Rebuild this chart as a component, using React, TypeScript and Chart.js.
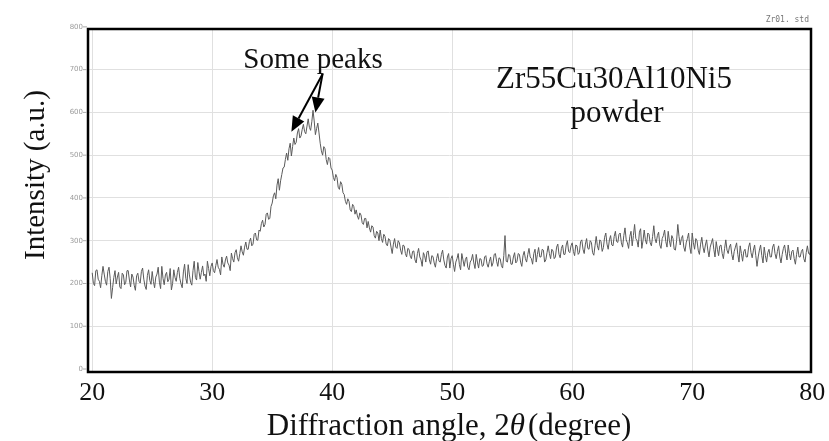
import React, { useEffect, useRef } from "react";
import { Chart, registerables } from "chart.js";

Chart.register(...registerables);

// Sampling grid of the scan (degrees 2θ)
const angleStart = 20;
const angleStep = 0.1;

// Intensity (a.u.), 0.1° apart (one row per degree)
const intensity20s = [
  225, 200, 195, 230, 232, 210, 205, 190, 218, 240,
  222, 205, 196, 228, 238, 212, 165, 190, 214, 230,
  199, 215, 226, 192, 188, 224, 220, 197, 203, 230,
  230, 208, 192, 222, 215, 196, 184, 218, 224, 205,
  201, 228, 236, 210, 194, 186, 219, 232, 207, 198,
  228, 205, 190, 215, 222, 238, 203, 188, 240, 212,
  197, 220, 226, 204, 210, 235, 185, 200, 232, 214,
  205, 226, 238, 212, 199, 190, 227, 245, 212, 200,
  244, 220, 203, 196, 230, 252, 214, 208, 249, 228,
  210, 226, 241, 218, 222, 205, 252, 235, 218, 240,
];
const intensity30s = [
  248, 230, 225, 242, 256, 238, 233, 220, 262, 245,
  238, 255, 264, 248, 243, 230, 271, 258, 250, 272,
  279, 260, 252, 270, 288, 274, 266, 285, 297, 280,
  280, 298, 306, 288, 292, 315, 318, 302, 301, 325,
  322, 340, 348, 332, 338, 362, 365, 350, 352, 380,
  388, 405, 412, 398, 430, 445, 418, 440, 455, 470,
  472, 490, 505, 488, 515, 528, 498, 520, 540, 525,
  530, 552, 562, 540, 545, 560, 572, 555, 550, 568,
  585, 565, 558, 578, 605, 580, 548, 562, 575, 552,
  528, 510, 500, 520, 515, 490, 478, 495, 492, 470,
];
const intensity40s = [
  465, 448, 440, 455, 448, 425, 420, 438, 432, 412,
  408, 392, 385, 398, 392, 372, 368, 385, 380, 362,
  372, 358, 350, 365, 360, 342, 338, 352, 352, 330,
  345, 330, 320, 335, 332, 312, 306, 322, 318, 300,
  325, 305, 296, 315, 310, 292, 288, 305, 302, 285,
  270, 292, 305, 285, 282, 300, 295, 278, 268, 290,
  288, 270, 262, 282, 280, 264, 258, 275, 276, 255,
  248, 270, 282, 262, 255, 240, 272, 265, 250, 274,
  276, 255, 245, 265, 263, 248, 238, 258, 270, 252,
  250, 268, 278, 255, 242, 236, 262, 270, 236, 258,
];
const intensity50s = [
  265, 245, 228, 250, 258, 270, 244, 232, 270, 255,
  240, 256, 262, 238, 232, 250, 255, 268, 248, 235,
  268, 250, 236, 258, 257, 240, 242, 262, 265, 246,
  238, 252, 262, 240, 248, 268, 270, 252, 240, 260,
  258, 242, 236, 265, 312, 252, 250, 268, 266, 245,
  245, 262, 272, 248, 252, 270, 268, 250, 240, 265,
  275, 258, 250, 268, 282, 262, 258, 245, 270, 280,
  250, 268, 284, 262, 262, 280, 278, 250, 255, 272,
  288, 270, 258, 280, 276, 258, 262, 285, 292, 268,
  260, 282, 290, 268, 268, 290, 300, 275, 272, 288,
];
const intensity60s = [
  295, 275, 265, 290, 288, 268, 272, 298, 302, 280,
  270, 292, 305, 282, 280, 300, 296, 272, 266, 288,
  310, 288, 278, 302, 298, 275, 284, 308, 318, 292,
  280, 302, 312, 290, 288, 310, 322, 298, 296, 315,
  318, 295, 285, 312, 330, 302, 295, 282, 310, 322,
  288, 312, 338, 305, 300, 285, 320, 328, 282, 300,
  325, 302, 292, 318, 315, 295, 288, 310, 335, 305,
  295, 312, 320, 290, 282, 305, 312, 325, 298, 285,
  322, 300, 286, 312, 305, 280, 278, 300, 338, 310,
  290, 305, 312, 285, 275, 295, 305, 318, 285, 270,
];
const intensity70s = [
  318, 295, 280, 305, 300, 278, 268, 292, 308, 285,
  272, 290, 302, 278, 262, 285, 295, 305, 280, 262,
  298, 280, 265, 288, 290, 270, 258, 282, 302, 278,
  270, 285, 292, 268, 255, 275, 285, 295, 268, 250,
  288, 270, 252, 275, 280, 262, 262, 285, 295, 272,
  260, 278, 290, 265, 240, 262, 278, 290, 265, 248,
  285, 265, 250, 272, 280, 262, 262, 285, 292, 270,
  258, 275, 288, 262, 248, 268, 282, 290, 270, 255,
  290, 270, 255, 275, 278, 258, 245, 268, 285, 262,
  262, 275, 280, 258, 250, 272, 288, 270, 268, 280,
];
const intensity80 = [275];

const xTickLabels = [20, 30, 40, 50, 60, 70, 80];
const xGridValues = [20, 30, 40, 50, 60, 70];
const yTickLabels = [0, 100, 200, 300, 400, 500, 600, 700, 800];
const yGridValues = [100, 200, 300, 400, 500, 600, 700];

const xTitleParts = ["Diffraction angle, 2", "\u03b8", "(degree)"];
const yTitle = "Intensity (a.u.)";
const sampleName = "Zr55Cu30Al10Ni5";
const sampleForm = "powder";
const peakNote = "Some peaks";
const fileTag = "Zr01. std";
// arrow targets (angle, intensity) of the annotated peaks
const peakArrowTargets = [
  [36.6, 555],
  [38.6, 600],
];
const peakArrowOrigin = [39.2, 690];

const SERIF = '"Liberation Serif", "Times New Roman", serif';

export default function App() {
  const ref = useRef<HTMLCanvasElement | null>(null);

  useEffect(() => {
    const canvas = ref.current;
    if (!canvas) return;
    const all = [
      ...intensity20s,
      ...intensity30s,
      ...intensity40s,
      ...intensity50s,
      ...intensity60s,
      ...intensity70s,
      ...intensity80,
    ];
    const points = all.map((v, i) => ({ x: angleStart + i * angleStep, y: v }));

    const decor = {
      id: "decor",
      afterDraw(chart: any) {
        const { ctx, chartArea: a, scales } = chart;
        const xs = scales.x;
        const ys = scales.y;
        ctx.save();
        // frame
        ctx.strokeStyle = "#000";
        ctx.lineWidth = 2.5;
        ctx.strokeRect(a.left, a.top, a.right - a.left, a.bottom - a.top);

        // x tick labels
        ctx.fillStyle = "#111";
        ctx.font = `26px ${SERIF}`;
        ctx.textAlign = "center";
        ctx.textBaseline = "alphabetic";
        xTickLabels.forEach((t) => {
          ctx.fillText(String(t), xs.getPixelForValue(t), 400);
        });

        // tiny y tick labels
        ctx.fillStyle = "#9a9a9a";
        ctx.font = `7px "DejaVu Sans", sans-serif`;
        ctx.textAlign = "right";
        ctx.textBaseline = "middle";
        ctx.strokeStyle = "#aaa";
        ctx.lineWidth = 1;
        yTickLabels.forEach((t) => {
          const y = ys.getPixelForValue(t);
          ctx.fillText(String(t), a.left - 5, y);
          ctx.beginPath();
          ctx.moveTo(a.left - 5, y);
          ctx.lineTo(a.left - 1, y);
          ctx.stroke();
        });

        // file tag
        ctx.font = `8px "DejaVu Sans Mono", monospace`;
        ctx.textAlign = "right";
        ctx.fillStyle = "#777";
        ctx.fillText(fileTag, a.right - 2, 20);

        // x title with italic theta
        ctx.fillStyle = "#111";
        ctx.textBaseline = "alphabetic";
        ctx.textAlign = "left";
        const fontN = `31px ${SERIF}`;
        const fontI = `italic 31px ${SERIF}`;
        ctx.font = fontN;
        const w0 = ctx.measureText(xTitleParts[0]).width;
        const w2 = ctx.measureText(xTitleParts[2]).width;
        ctx.font = fontI;
        const w1 = ctx.measureText(xTitleParts[1]).width + 3;
        let sx = 449 - (w0 + w1 + w2) / 2;
        ctx.font = fontN;
        ctx.fillText(xTitleParts[0], sx, 435);
        sx += w0;
        ctx.font = fontI;
        ctx.fillText(xTitleParts[1], sx, 435);
        sx += w1;
        ctx.font = fontN;
        ctx.fillText(xTitleParts[2], sx, 435);

        // y title
        ctx.textAlign = "center";
        ctx.font = `29px ${SERIF}`;
        ctx.save();
        ctx.translate(44, 175);
        ctx.rotate(-Math.PI / 2);
        ctx.fillText(yTitle, 0, 0);
        ctx.restore();

        // sample name
        ctx.font = `31px ${SERIF}`;
        ctx.fillText(sampleName, 614, 88);
        ctx.fillText(sampleForm, 617, 122);

        // peak note + arrows
        ctx.font = `29px ${SERIF}`;
        ctx.fillText(peakNote, 313, 68);
        const ox = xs.getPixelForValue(peakArrowOrigin[0]);
        const oy = ys.getPixelForValue(peakArrowOrigin[1]);
        ctx.strokeStyle = "#000";
        ctx.fillStyle = "#000";
        ctx.lineWidth = 2;
        peakArrowTargets.forEach(([tx, ty]) => {
          const px = xs.getPixelForValue(tx);
          const py = ys.getPixelForValue(ty);
          const ang = Math.atan2(py - oy, px - ox);
          const head = 15;
          const half = 6.5;
          const bx = px - head * Math.cos(ang);
          const by = py - head * Math.sin(ang);
          ctx.beginPath();
          ctx.moveTo(ox, oy);
          ctx.lineTo(bx, by);
          ctx.stroke();
          ctx.beginPath();
          ctx.moveTo(px, py);
          ctx.lineTo(bx + half * Math.sin(ang), by - half * Math.cos(ang));
          ctx.lineTo(bx - half * Math.sin(ang), by + half * Math.cos(ang));
          ctx.closePath();
          ctx.fill();
        });
        ctx.restore();
      },
    };

    const chart = new Chart(canvas, {
      type: "line",
      data: {
        datasets: [
          {
            data: points,
            borderColor: "#5a5a5a",
            borderWidth: 1,
            pointRadius: 0,
            tension: 0,
            fill: false,
          },
        ],
      },
      options: {
        responsive: false,
        animation: false,
        events: [],
        layout: { padding: { left: 88, right: 18, top: 29, bottom: 69 } },
        plugins: {
          legend: { display: false },
          tooltip: { enabled: false },
          title: { display: false },
        },
        scales: {
          x: {
            type: "linear",
            min: 19.65,
            max: 79.9,
            afterBuildTicks: (s: any) => {
              s.ticks = xGridValues.map((v) => ({ value: v }));
            },
            ticks: { display: false },
            grid: { color: "#e0e0e0", lineWidth: 1, drawTicks: false },
            border: { display: false },
          },
          y: {
            type: "linear",
            min: -7,
            max: 795,
            afterBuildTicks: (s: any) => {
              s.ticks = yGridValues.map((v) => ({ value: v }));
            },
            ticks: { display: false },
            grid: { color: "#e0e0e0", lineWidth: 1, drawTicks: false },
            border: { display: false },
          },
        },
      },
      plugins: [decor],
    });
    return () => chart.destroy();
  }, []);

  return (
    <div style={{ position: "absolute", left: 0, top: 0, width: 829, height: 441, background: "#fff" }}>
      <canvas ref={ref} width={829} height={441} style={{ display: "block" }} />
    </div>
  );
}
